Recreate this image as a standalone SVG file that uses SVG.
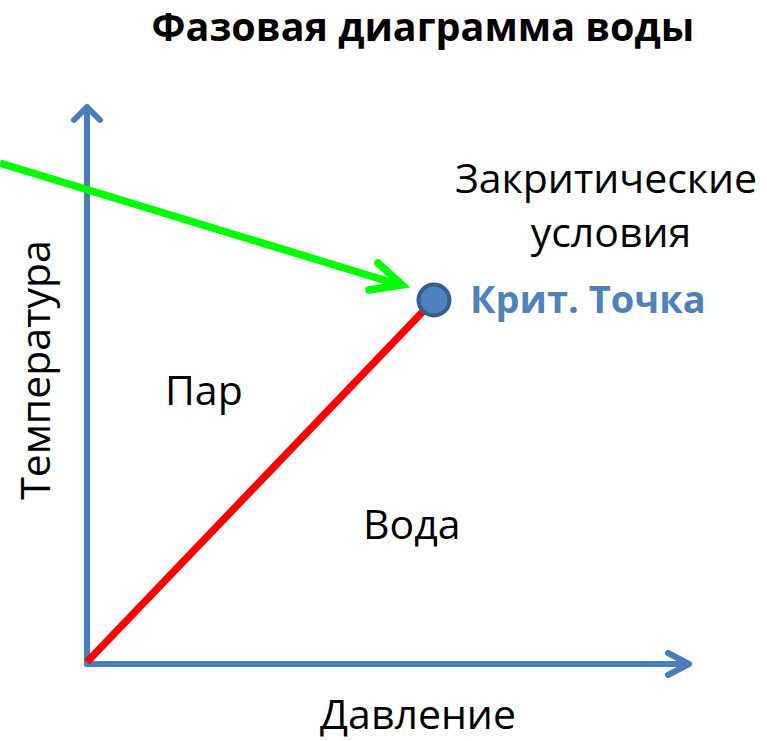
<svg xmlns="http://www.w3.org/2000/svg" width="767" height="741" viewBox="0 0 767 741">
<style>
text{font-family:"Open Sans","Liberation Sans",sans-serif;fill:#000}
.lbl{font-size:41px}
.axis{stroke:#4a7ebb;stroke-width:6;fill:none;stroke-linecap:round;stroke-linejoin:round}
</style>
<rect width="767" height="741" fill="#fff"/>
<g id="title"><text x="423" y="41" text-anchor="middle" font-size="39.5" font-weight="bold">Фазовая диаграмма воды</text></g>
<g id="connectors">
<path class="axis" d="M87 664 V108 M74 120 L87 107 L100 120"/>
<path class="axis" d="M87 664 H689 M668 653 L689 664 L668 675"/>
<line x1="87" y1="662" x2="432" y2="302" stroke="#ff0000" stroke-width="7.5"/>
<path d="M0 163 L400 285" stroke="#00ff00" stroke-width="7.5" fill="none"/>
<path d="M378 263 L402 285 L369 290" stroke="#00ff00" stroke-width="7.5" fill="none" stroke-linecap="round" stroke-linejoin="miter"/>
</g>
<g id="crit-point">
<circle cx="434" cy="300" r="15.5" fill="#4f81bd" stroke="#385d8a" stroke-width="4"/>
<text x="470" y="313" font-size="38" font-weight="bold" style="fill:#4f81bd">Крит. Точка</text>
</g>
<g id="supercritical"><text class="lbl" x="606" y="193" text-anchor="middle">Закритические</text><text class="lbl" x="611" y="247" text-anchor="middle">условия</text></g>
<g id="steam"><text class="lbl" x="165" y="405">Пар</text></g>
<g id="water"><text class="lbl" x="363" y="539">Вода</text></g>
<g id="x-label"><text class="lbl" x="418" y="729" text-anchor="middle">Давление</text></g>
<g id="y-label"><text class="lbl" transform="translate(50 370) rotate(-90)" text-anchor="middle">Температура</text></g>
</svg>
